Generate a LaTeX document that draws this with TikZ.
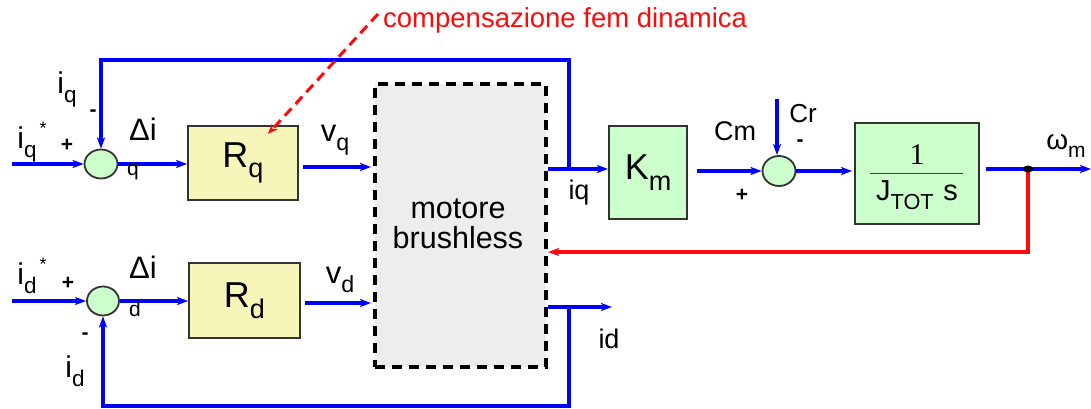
\documentclass[tikz,border=0pt]{standalone}
\usepackage{fontspec}
\setmainfont{Liberation Sans}
\newfontfamily\serifone{Liberation Serif}
\usetikzlibrary{arrows.meta,shapes.geometric}
\definecolor{sigblue}{RGB}{0,0,255}
\definecolor{fbred}{RGB}{255,10,10}
\definecolor{boxyellow}{RGB}{246,246,186}
\definecolor{boxgreen}{RGB}{204,255,204}
\definecolor{motorgray}{RGB}{237,237,237}
\newcommand\dn[1]{\raisebox{-0.3em}{\scalebox{0.75}{#1}}}
\newcommand\fs[1]{\fontsize{#1}{#1}\selectfont}
\begin{document}
\begin{tikzpicture}[x=1pt,y=-1pt,
  sig/.style={draw=sigblue, line width=3.2pt, -{Stealth[length=11pt,width=8pt,inset=2.5pt]}},
  wire/.style={draw=sigblue, line width=3.2pt},
  redsig/.style={draw=fbred, line width=3.2pt, -{Stealth[length=11pt,width=8pt,inset=2.5pt]}},
  blk/.style={draw=black!80, line width=1.8pt, inner sep=0pt},
  sumn/.style={ellipse, draw=black!80, fill=boxgreen, line width=1.8pt, inner sep=0pt},
  lbl/.style={inner sep=0pt, font=\fs{30}},
  sgn/.style={inner sep=0pt, font=\fs{21}\bfseries}]
\useasboundingbox (0,0) rectangle (1091,409);

% blocks
\node[blk, fill=boxyellow, minimum width=110pt, minimum height=74pt, font=\fs{36}] (Rq) at (243,163) {R\dn{q}};
\node[blk, fill=boxyellow, minimum width=111pt, minimum height=75pt, font=\fs{36}] (Rd) at (244.5,300.5) {R\dn{d}};
\node[draw=black, fill=motorgray, line width=4pt, dash pattern=on 10pt off 7pt, minimum width=171pt, minimum height=283pt, inner sep=0pt] (M) at (460.5,225.5) {};
\node[inner sep=0pt, align=center, font=\fs{30.5}] (Mt) at (458,224) {motore\\[-1pt]brushless};
\node[blk, fill=boxgreen, minimum width=78pt, minimum height=93pt, font=\fs{36}] (Km) at (648,172.5) {K\dn{m}};
\node[blk, fill=boxgreen, minimum width=124pt, minimum height=101pt] (J) at (917,173.5) {};
\node[inner sep=0pt, font=\fs{30}\serifone] (Jn) at (917,155) {1};
\node[inner sep=0pt, font=\fs{29}] (Jd) at (917,195) {J\dn{TOT}\,\,s};
\draw[line width=1pt, black!75] (870,173) -- (963,173);

% summing junctions
\node[sumn, minimum width=33pt, minimum height=29pt] (sq) at (101,164) {};
\node[sumn, minimum width=32pt, minimum height=29pt] (sd) at (103,301) {};
\node[sumn, minimum width=33pt, minimum height=30pt] (s2) at (779,171) {};

% free ends and junctions
\coordinate (iqin) at (12,164);
\coordinate (idin) at (12,301);
\coordinate (jq) at (569,169);
\coordinate (jd) at (569,307);
\coordinate (idout) at (612,307);
\coordinate (crin) at (777,99);
\coordinate (wout) at (1091,169);
\coordinate (jw) at (1028,169);
\coordinate (redtop) at (378,14);
\coordinate (redtip) at (268,134);

% q channel
\draw[sig] (iqin) -- (sq.west);
\draw[sig] (sq.east) -- (sq.east -| Rq.west);
\draw[sig, shorten <=4pt, shorten >=2pt] (Rq.east |- 0,167) -- (M.west |- 0,167);
\draw[wire] (M.east |- jq) -- (jq);
\draw[sig] (jq) -- (Km.west |- jq);
\draw[sig] (jq) -- (569,60) -| (sq.north);

% d channel
\draw[sig] (idin) -- (sd.west);
\draw[sig] (sd.east) -- (sd.east -| Rd.west);
\draw[sig, shorten <=4pt, shorten >=2pt] (Rd.east |- 0,303) -- (M.west |- 0,303);
\draw[sig] (M.east |- jd) -- (idout);
\draw[sig] (jd) -- (569,406) -| (sd.south);

% mechanical part
\draw[sig, shorten <=9pt] (Km.east |- s2.west) -- (s2.west);
\draw[sig] (crin) -- (crin |- s2.north);
\draw[sig, shorten >=2pt] (s2.east) -- (J.west |- s2.east);
\draw[sig, shorten <=6pt] (J.east |- wout) -- (wout);
\draw[redsig] (jw) -- (1028,252) -- (M.east |- 0,252);
\fill[black] (jw) ellipse (5pt and 3.5pt);

% red dashed annotation
\draw[draw=fbred, line width=3pt, dash pattern=on 10pt off 6pt, -{Stealth[length=10pt,width=8pt]}] (redtop) -- (redtip);
\node[inner sep=0pt, anchor=west, text=fbred, font=\fs{27.5}] (comp) at (383,20) {compensazione fem dinamica};

% labels q
\node[lbl] (liqs) at (32,142) {i\dn{q}\raisebox{0.45em}{\fs{18}\,*}};
\node[sgn] (pq) at (67,145) {+};
\node[lbl] (liq) at (67,89) {i\dn{q}};
\node[sgn] (mq) at (93,113) {-};
\node[lbl, font=\fs{31}] (dq) at (143,129) {Δi};
\node[lbl, font=\fs{21}] (dqs) at (133,172) {q};
\node[lbl, font=\fs{31}] (vq) at (335,140) {v\dn{q}};
\node[lbl, font=\fs{27}] (iqr) at (579,193) {iq};

% labels d
\node[lbl] (lids) at (32,276) {i\dn{d}\raisebox{0.45em}{\fs{18}\,*}};
\node[sgn] (pd) at (68,283) {+};
\node[lbl, font=\fs{31}] (dd) at (143,267) {Δi};
\node[lbl, font=\fs{21}] (dds) at (135,309) {d};
\node[sgn] (md) at (85,336) {-};
\node[lbl] (lid) at (75,371) {i\dn{d}};
\node[lbl, font=\fs{31}] (vd) at (340,280) {v\dn{d}};
\node[lbl, font=\fs{27}] (idr) at (609,339) {id};

% labels mechanical
\node[lbl, font=\fs{27}] (cm) at (735,131) {Cm};
\node[lbl, font=\fs{26}] (cr) at (803,114) {Cr};
\node[sgn] (m2) at (800,143) {-};
\node[sgn] (p2) at (742,195) {+};
\node[lbl, font=\fs{28}] (wm) at (1066,146) {ω\dn{m}};
\end{tikzpicture}
\end{document}
